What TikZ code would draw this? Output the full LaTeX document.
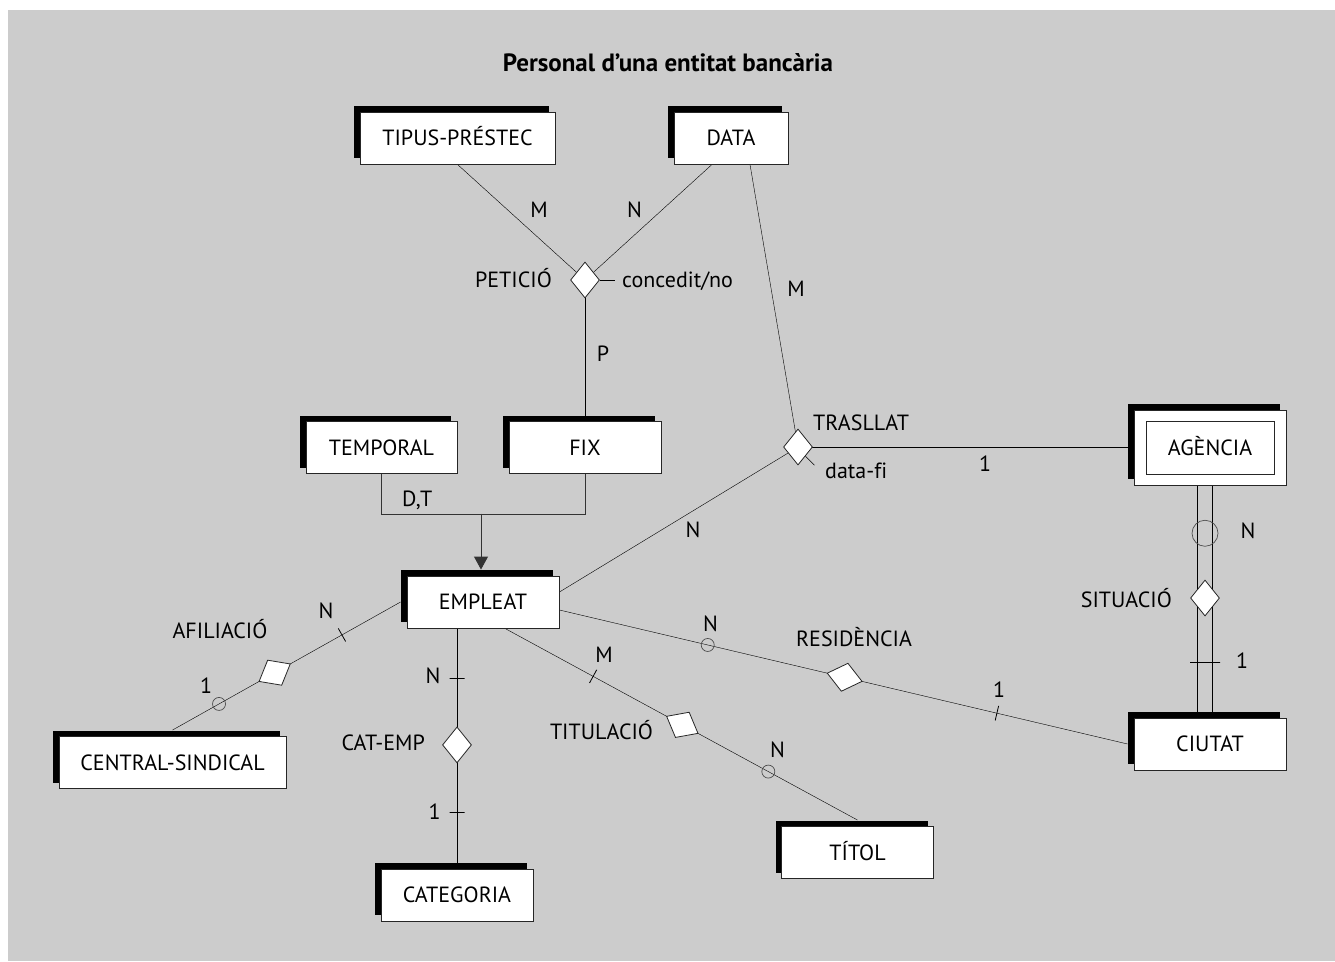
\documentclass[tikz,border=0pt]{standalone}
\usepackage{fontspec}
\setmainfont{PT Sans}
\newfontfamily\titlefont{PT Sans}
\usetikzlibrary{shapes.geometric,shadows,calc,arrows.meta}
\definecolor{bggray}{RGB}{204,204,204}
\pgfdeclarelayer{bg}
\pgfsetlayers{bg,main}
\begin{document}
\begin{tikzpicture}[x=1pt,y=-1pt, font=\fontsize{22}{26}\selectfont, line width=0.9pt,
  ent/.style={draw=black!85, fill=white, line width=0.9pt, minimum width=152pt, minimum height=52pt,
    inner sep=0pt, text height=15.4pt, text depth=0pt,
    general shadow={fill=black, shadow xshift=-6pt, shadow yshift=6pt}},
  relu/.style={diamond, draw=black!85, fill=white, line width=0.8pt, inner sep=0pt, minimum width=29pt, minimum height=36pt},
  rels/.style={diamond, draw=black!85, fill=white, line width=0.8pt, inner sep=0pt, minimum width=36pt, minimum height=29pt, sloped},
  crossmark/.style={draw, line width=0.8pt, inner sep=0pt, minimum width=0pt, minimum height=15pt, sloped},
  ocirc/.style={circle, draw=black!70, line width=0.7pt, inner sep=0pt, minimum size=13pt},
  lbl/.style={inner sep=0pt},
  isa/.style={draw=black!80, line width=0.9pt}
]
\begin{pgfonlayer}{bg}
  \fill[white] (0,0) rectangle (1335,961);
  \fill[bggray] (8,10) rectangle (1335,961);
\end{pgfonlayer}
\useasboundingbox (0,0) rectangle (1335,961);

% title
\node[lbl, anchor=base, font=\titlefont\fontsize{25}{28}\selectfont\bfseries] (title) at (668,71) {Personal d’una entitat bancària};

% entities
\node[ent, minimum width=195pt] (TIP) at (457.5,138) {TIPUS-PRÉSTEC};
\node[ent, minimum width=114pt] (DATA) at (731,138) {DATA};
\node[ent, minimum width=151pt] (TEMP) at (381.5,447.5) {TEMPORAL};
\node[ent] (FIX) at (585,447.5) {FIX};
\node[ent, minimum height=75pt] (AG) at (1210,447.5) {AGÈNCIA};
\node[draw=black!85, line width=0.9pt, minimum width=128pt, minimum height=53pt, inner sep=0pt] (AGin) at (AG.center) {};
\node[ent] (EMP) at (483,602) {EMPLEAT};
\node[ent, minimum width=227pt] (CS) at (172.5,762.5) {CENTRAL-SINDICAL};
\node[ent] (CAT) at (457,895) {CATEGORIA};
\node[ent] (TIT) at (857.5,852.5) {TÍTOL};
\node[ent] (CIU) at (1210,744) {CIUTAT};

% upright relationships
\node[relu] (PET) at (585,280) {};
\node[relu] (TRAS) at (798,447) {};

% labels
\node[lbl, anchor=base east] (lpet) at (552,287) {PETICIÓ};
\node[lbl, anchor=base west] (conc) at (622,287) {concedit/no};
\node[lbl, anchor=base west] (ltras) at (813,430) {TRASLLAT};
\node[lbl, anchor=base west] (dfi) at (825,478) {data-f\kern0pt i};
\node[lbl, anchor=base] (m1) at (539,217) {M};
\node[lbl, anchor=base] (n1) at (634.5,217) {N};
\node[lbl, anchor=base] (p1) at (603,361) {P};
\node[lbl, anchor=base] (m2) at (796,296) {M};
\node[lbl, anchor=base] (one1) at (985,471) {1};
\node[lbl, anchor=base] (n2) at (693,537) {N};
\node[lbl, anchor=base west] (dt) at (402,506) {D,T};
\node[lbl, anchor=base] (n3) at (326,618) {N};
\node[lbl, anchor=base] (lafil) at (220,638) {AFILIACIÓ};
\node[lbl, anchor=base] (one2) at (206,693) {1};
\node[lbl, anchor=base] (n4) at (433,683) {N};
\node[lbl, anchor=base east] (lcat) at (425,750) {CAT-EMP};
\node[lbl, anchor=base] (one3) at (434.5,819) {1};
\node[lbl, anchor=base] (m3) at (604,662) {M};
\node[lbl, anchor=base] (ltit) at (601.5,739) {TITULACIÓ};
\node[lbl, anchor=base] (n5) at (777.5,757) {N};
\node[lbl, anchor=base] (n6) at (710.5,631) {N};
\node[lbl, anchor=base] (lres) at (854,646) {RESIDÈNCIA};
\node[lbl, anchor=base] (one4) at (999,697) {1};
\node[lbl, anchor=base east] (lsit) at (1172,607) {SITUACIÓ};
\node[lbl, anchor=base] (n7) at (1248,538) {N};
\node[lbl, anchor=base] (one5) at (1242,668) {1};

\coordinate (sitA) at ($(AG.south)+(-5,0)$);
\coordinate (sitB) at ($(CIU.north)+(-5,0)$);
\coordinate (dfiEnd) at ($(TRAS.south east)+(9,9)$);

\begin{pgfonlayer}{bg}
  % PETICIO
  \draw (TIP.south) -- (PET.center);
  \draw ($(DATA.south)+(-19,0)$) -- (PET.center);
  \draw (PET.center) -- (FIX.north);
  \draw[shorten >=7pt] (PET.east) -- (PET.east -| conc.west);
  % TRASLLAT
  \draw ($(DATA.south)+(19,0)$) -- (TRAS.center);
  \draw (TRAS.center) -- (TRAS.center -| AG.west);
  \draw (TRAS.center) -- ($(EMP.east)+(0,-10)$);
  \draw (TRAS.south east) -- (dfiEnd);
  % ISA
  \draw[isa] (TEMP.south) -- ++(0,40) coordinate (isaL) -| (FIX.south);
  \coordinate (isaM) at (481,513.5);
  \draw[isa, -{Triangle[width=14pt,length=13pt]}, shorten >=6pt] (isaM) -- (isaM |- EMP.north);
  % AFILIACIO
  \draw ($(EMP.west)+(-6,0)$) -- node[crossmark,pos=0.257](afT){} node[rels,pos=0.552](AFIL){} node[ocirc,pos=0.796](afC){} ($(CS.north)+(0,-6)$);
  % CAT-EMP
  \draw (CAT.north |- EMP.south) -- node[crossmark,pos=0.207](ceT1){} node[rels,pos=0.485](CATEMP){} node[crossmark,pos=0.768](ceT2){} (CAT.north);
  % TITULACIO
  \draw ($(EMP.south)+(22,0)$) -- node[crossmark,pos=0.25](tiT){} node[rels,pos=0.503](TITUL){} node[ocirc,pos=0.747](tiC){} ($(TIT.north)+(0,-6)$);
  % RESIDENCIA
  \draw ($(EMP.east)+(0,8)$) -- node[ocirc,pos=0.261](reC){} node[rels,pos=0.502](RESID){} node[crossmark,pos=0.770](reT){} ($(CIU.west)+(-6,0)$);
  % SITUACIO
  \draw ($(sitA)+(-7.5,0)$) -- ($(sitB)+(-7.5,0)$);
  \draw ($(sitA)+(7.5,0)$) -- ($(sitB)+(7.5,0)$);
  \path (sitA) -- node[ocirc, minimum size=26pt, pos=0.206](siC){} node[rels,pos=0.485](SIT){} node[crossmark, minimum height=30pt, pos=0.764](siT){} (sitB);
\end{pgfonlayer}
\end{tikzpicture}
\end{document}
